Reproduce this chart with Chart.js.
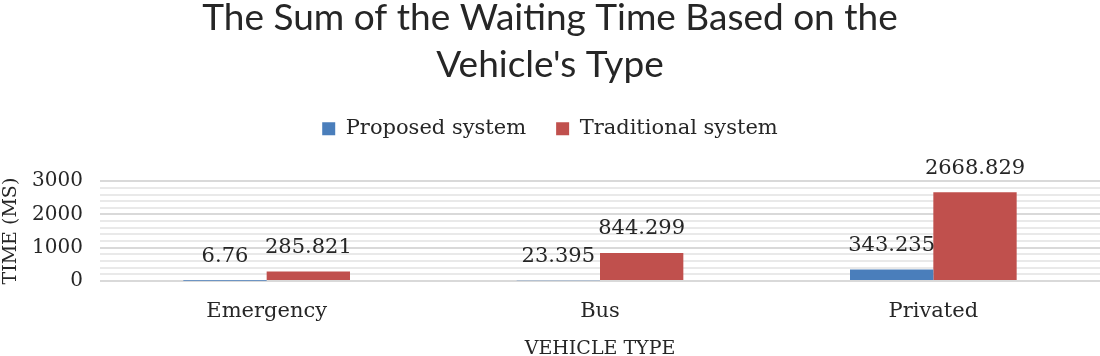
<!DOCTYPE html>
<html>
<head>
<meta charset="utf-8">
<script src="https://cdn.jsdelivr.net/npm/chart.js@4"></script>
<style>
  html, body { margin: 0; padding: 0; background: #fff; }
  #wrap { width: 1100px; height: 356px; position: relative; }
</style>
</head>
<body>
<div id="wrap"><canvas id="waitChart"></canvas></div>
<script>
const categories = ["Emergency", "Bus", "Privated"];
const proposedValues = [6.76, 23.395, 343.235];
const traditionalValues = [285.821, 844.299, 2668.829];
const seriesNames = ["Proposed system", "Traditional system"];
const titleLines = ["The Sum of the Waiting Time Based on the", "Vehicle's Type"];

const serif = "'DejaVu Serif', 'Liberation Serif', serif";
const textColor = "#262626";

// value labels above each bar
const barLabels = {
    id: "barLabels",
    afterDatasetsDraw(chart) {
        const ctx = chart.ctx;
        ctx.save();
        ctx.font = "21px " + serif;
        ctx.fillStyle = textColor;
        ctx.textAlign = "center";
        ctx.textBaseline = "middle";
        chart.data.datasets.forEach((ds, i) => {
            chart.getDatasetMeta(i).data.forEach((bar, j) => {
                ctx.fillText(String(ds.data[j]), bar.x, bar.y - 24);
            });
        });
        ctx.restore();
    }
};

// extra room under the legend
const legendGap = {
    id: "legendGap",
    beforeInit(chart) {
        const fit = chart.legend.fit;
        chart.legend.fit = function () {
            fit.bind(chart.legend)();
            this.height += 32;
        };
    }
};

const ctx = document.getElementById("waitChart").getContext("2d");
new Chart(ctx, {
    type: "bar",
    data: {
        labels: categories,
        datasets: [{
            label: seriesNames[0],
            data: proposedValues,
            backgroundColor: "#4a7ebb"
        }, {
            label: seriesNames[1],
            data: traditionalValues,
            backgroundColor: "#c0504d"
        }]
    },
    options: {
        responsive: true,
        maintainAspectRatio: false,
        animation: false,
        categoryPercentage: 0.5,
        barPercentage: 1.0,
        layout: {
            padding: { left: 0, right: 0, top: -5, bottom: -3 }
        },
        plugins: {
            title: {
                display: true,
                text: titleLines,
                color: textColor,
                font: { family: "Lato, sans-serif", size: 37, weight: "normal", lineHeight: 1.26 },
                padding: { top: 0, bottom: 0 }
            },
            legend: {
                position: "top",
                labels: {
                    color: textColor,
                    font: { family: serif, size: 21 },
                    boxWidth: 13,
                    boxHeight: 13,
                    padding: 30
                }
            },
            tooltip: { enabled: false }
        },
        scales: {
            x: {
                grid: { display: false },
                border: { display: false },
                afterFit: (scale) => { scale.height = 78; },
                ticks: {
                    color: textColor,
                    font: { family: serif, size: 21 },
                    padding: 10
                },
                title: {
                    display: true,
                    text: "VEHICLE TYPE",
                    color: textColor,
                    font: { family: serif, size: 19, lineHeight: 1.0 },
                    padding: { top: 0, bottom: 0 }
                }
            },
            y: {
                min: 0,
                max: 3000,
                border: { display: false },
                afterFit: (scale) => { scale.width = 100; },
                grid: {
                    color: (c) => c.tick && c.tick.value % 1000 === 0 ? "#d9d9d9" : "#e9e9e9",
                    lineWidth: 2,
                    drawTicks: false
                },
                ticks: {
                    stepSize: 200,
                    autoSkip: false,
                    color: textColor,
                    font: { family: serif, size: 20 },
                    padding: 17,
                    callback: (v) => v % 1000 === 0 ? v : ""
                },
                title: {
                    display: true,
                    text: "TIME (MS)",
                    color: textColor,
                    font: { family: serif, size: 19 },
                    padding: { top: 0, bottom: 0 }
                }
            }
        }
    },
    plugins: [barLabels, legendGap]
});
</script>
</body>
</html>
